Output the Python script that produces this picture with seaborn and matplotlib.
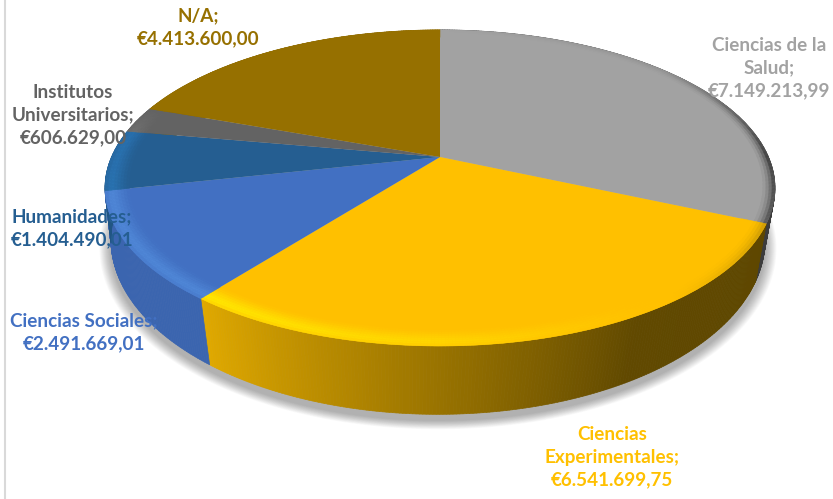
import numpy as np
import matplotlib
matplotlib.use("Agg")
import matplotlib.pyplot as plt
import seaborn as sns
from matplotlib.collections import PolyCollection
from matplotlib.colors import to_rgb
from matplotlib.transforms import Transform

# values from the data labels, clockwise from 12 o'clock
areas = ["Ciencias de la Salud", "Ciencias Experimentales", "Ciencias Sociales",
         "Humanidades", "Institutos Universitarios", "N/A"]
amounts = [7149213.99, 6541699.75, 2491669.01, 1404490.01, 606629.00, 4413600.00]
slice_colors = ["#A2A2A2", "#FFC000", "#4270C2", "#255E91", "#636363", "#967000"]
rim_colors = ["#C8C8C8", "#FFE600", "#5C9CEA", "#2E86D0", "#808080", "#967000"]
label_lines = ["Ciencias de la\nSalud;\n€7.149.213,99",
               "Ciencias\nExperimentales;\n€6.541.699,75",
               "Ciencias Sociales;\n€2.491.669,01",
               "Humanidades;\n€1.404.490,01",
               "Institutos\nUniversitarios;\n€606.629,00",
               "N/A;\n€4.413.600,00"]
label_pos = [(769, 68), (612, 457), (84, 332), (72, 228), (73, 115), (198, 27)]

# how the 3D pie sits in the picture (pixels)
TOP = dict(cx=440, cy=157, rx=328.5, ry=152, k=0.196)
BOTTOM = dict(cx=438, cy=204, rx=320, ry=167, k=0.206)


def project(x, y, cx, cy, rx, ry, k):
    # unit circle -> perspective view, far side is y=+1
    w = 1 + k * y
    return cx + rx * x / w, cy - ry * y / w


class PieView(Transform):
    input_dims = 2
    output_dims = 2
    is_separable = False
    has_inverse = False

    def transform_non_affine(self, values):
        values = np.asarray(values)
        px, py = project(values[:, 0], values[:, 1], **TOP)
        return np.column_stack([px, py])


def on_circle(deg, r=1.0):
    # deg is clockwise from the top
    a = np.radians(deg)
    return r * np.sin(a), r * np.cos(a)


def blend(a, b, t):
    return tuple(x + (y - x) * t for x, y in zip(a, b))


sns.set_theme(style="white")
plt.rcParams["font.family"] = ["Lato", "DejaVu Sans"]
plt.rcParams["font.weight"] = "bold"

fig = plt.figure(figsize=(8.33, 4.99), dpi=100, facecolor="white")
ax = fig.add_axes([0, 0, 1, 1])

palette = sns.color_palette(slice_colors)
wedges, _ = ax.pie(amounts, colors=palette, startangle=90, counterclock=False, radius=1,
                   wedgeprops=dict(linewidth=0))
ax.set_aspect("auto")
ax.set_xlim(0, 833)
ax.set_ylim(499, 0)
ax.axis("off")

view = PieView() + ax.transData
for w in wedges:
    w.set_transform(view)
    w.set_zorder(3)
    w.set_clip_on(False)

shares = np.array(amounts) / sum(amounts) * 360
ends = np.cumsum(shares)
starts = ends - shares

# soft shadow under the front of the pie
ring = np.linspace(0, 360, 240)
for i in range(14):
    sx, sy = on_circle(ring, 1 + 0.0024 * (14 - i))
    px, py = project(sx, sy, **BOTTOM)
    ax.fill(px, py + 6, color="black", alpha=0.024, lw=0, zorder=1)

# side wall and rim, in thin strips so the shading can run around the pie
wall_angle = [0, 114, 150, 180, 218, 218.01, 258, 360]
wall_shade = [0.35, 0.37, 0.38, 0.60, 0.88, 0.90, 0.90, 0.90]
rim_angle = [0, 50, 90, 114, 114.01, 150, 180, 218, 218.01, 258, 280, 290, 360]
rim_level = [0, -0.1, -0.7, -0.5, -0.2, 0.05, 0.55, 1.0, 0.5, 0.5, 0.45, 0, 0]
rim_bands = np.linspace(0.93, 1.0, 9)
lit_shape = [0.1, 0.25, 0.45, 0.65, 0.85, 1.0, 0.95, 0.7]
dark_shape = [0, 0, 0, 0, 0.1, 0.3, 0.6, 1.0]

wall_polys, wall_cols, rim_polys, rim_cols = [], [], [], []
for s, e, base, hi in zip(starts, ends, slice_colors, rim_colors):
    base, hi = to_rgb(base), to_rgb(hi)
    edges = np.linspace(s, e, max(int(e - s) * 2, 4))
    for a0, a1 in zip(edges[:-1], edges[1:]):
        mid = (a0 + a1) / 2
        t0 = project(*on_circle(a0), **TOP)
        t1 = project(*on_circle(a1), **TOP)
        # wall foot leans a little towards the front, as in the original view
        f0 = a0 - 1.5 * np.sin(np.radians(2 * a0))
        f1 = a1 - 1.5 * np.sin(np.radians(2 * a1))
        b0 = project(*on_circle(f0), **BOTTOM)
        b1 = project(*on_circle(f1), **BOTTOM)
        wall_polys.append([t0, t1, b1, b0])
        shade = np.interp(mid, wall_angle, wall_shade)
        wall_cols.append(tuple(c * shade for c in base))

        level = np.interp(mid, rim_angle, rim_level)
        for j in range(len(rim_bands) - 1):
            r0, r1 = rim_bands[j], rim_bands[j + 1]
            corners = [(a0, r0), (a1, r0), (a1, r1), (a0, r1)]
            rim_polys.append([project(*on_circle(a, r), **TOP) for a, r in corners])
            if level >= 0:
                rim_cols.append(blend(base, hi, level * lit_shape[j]))
            else:
                rim_cols.append(blend(base, (0.1, 0.1, 0.1), -level * dark_shape[j]))

ax.add_collection(PolyCollection(wall_polys, facecolors=wall_cols, edgecolors=wall_cols,
                                 linewidths=0.5, zorder=2))
ax.add_collection(PolyCollection(rim_polys, facecolors=rim_cols, edgecolors=rim_cols,
                                 linewidths=0.3, zorder=4))

for txt, (tx, ty), col in zip(label_lines, label_pos, slice_colors):
    ax.text(tx, ty, txt, color=col, fontsize=13.6, fontweight="bold", ha="center", va="center",
            linespacing=1.42, zorder=5)

# thin frame line of the original chart area
ax.plot([5, 5], [0, 499], color="#D9D9D9", lw=1.5, zorder=0)

fig.savefig("out.png", dpi=100)
